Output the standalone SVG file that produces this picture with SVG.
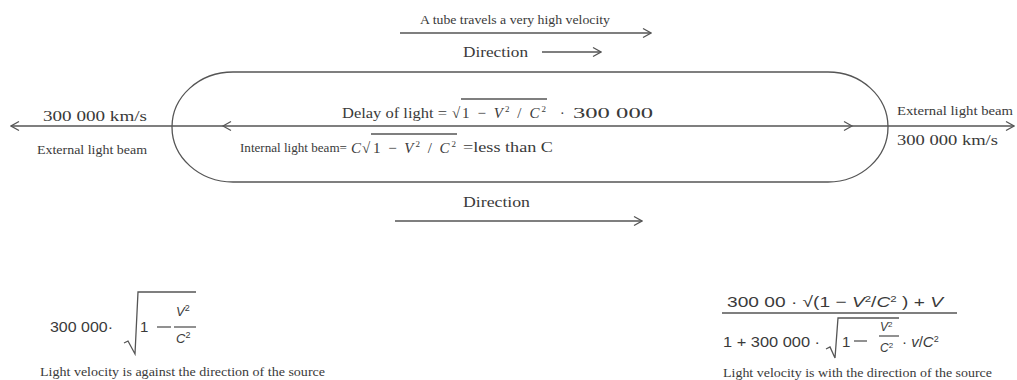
<svg xmlns="http://www.w3.org/2000/svg" width="1017" height="380" viewBox="0 0 1017 380">
<defs>
<marker id="chev" viewBox="0 0 10 10" refX="9" refY="5" markerWidth="10" markerHeight="10" markerUnits="userSpaceOnUse" orient="auto-start-reverse">
<path d="M1,0.5 L9,5 L1,9.5" fill="none" stroke="#555" stroke-width="1.2"/>
</marker>
</defs>
<style>
.ln{stroke:#555;stroke-width:1.3;fill:none}
.sr{font-family:"Liberation Serif","Times New Roman",serif;fill:#3a3a3a}
.ss{font-family:"Liberation Sans",Arial,sans-serif;fill:#3a3a3a}
.it{font-style:italic}
.ch{fill:none;stroke:#555;stroke-width:1.2}
</style>
<rect width="1017" height="380" fill="#fff"/>

<g id="tube">
<path class="ln" d="M233,72 L828,72 A60,55 0 0 1 828,182 L233,182 A61,55 0 0 1 233,72 Z"/>
</g>

<g id="connectors">
<line class="ln" x1="400" y1="33" x2="651" y2="33" marker-end="url(#chev)"/>
<line class="ln" x1="542" y1="52" x2="601" y2="52" marker-end="url(#chev)"/>
<line class="ln" x1="11" y1="126" x2="1014" y2="126" marker-start="url(#chev)" marker-end="url(#chev)"/>
<path class="ch" d="M231,121.5 L223,126 L231,130.5"/>
<path class="ch" d="M844,121.5 L852,126 L844,130.5"/>
<line class="ln" x1="395" y1="221" x2="642" y2="221" marker-end="url(#chev)"/>
</g>

<g id="top-label">
<text class="sr" x="420" y="24" font-size="13" textLength="190" lengthAdjust="spacingAndGlyphs">A tube travels a very high velocity</text>
<text class="sr" x="463" y="57" font-size="14" textLength="65" lengthAdjust="spacingAndGlyphs">Direction</text>
</g>

<g id="bottom-label">
<text class="sr" x="463" y="207" font-size="14" textLength="67" lengthAdjust="spacingAndGlyphs">Direction</text>
</g>

<g id="left-beam">
<text class="sr" x="43" y="121" font-size="14" textLength="104" lengthAdjust="spacingAndGlyphs">300 000 km/s</text>
<text class="sr" x="37" y="154" font-size="12" textLength="110" lengthAdjust="spacingAndGlyphs">External light beam</text>
</g>

<g id="right-beam">
<text class="sr" x="897" y="115" font-size="12" textLength="116" lengthAdjust="spacingAndGlyphs">External light beam</text>
<text class="sr" x="897" y="145" font-size="14" textLength="101" lengthAdjust="spacingAndGlyphs">300 000 km/s</text>
</g>

<g id="delay-formula">
<text class="sr" x="342" y="118" font-size="14" textLength="105" lengthAdjust="spacingAndGlyphs">Delay of light =</text>
<text class="sr" x="452" y="118" font-size="15">√</text>
<line class="ln" x1="461" y1="99" x2="547" y2="99" stroke-width="1"/>
<text class="sr" x="462" y="118" font-size="15" textLength="84" lengthAdjust="spacing">1 − <tspan class="it">V</tspan><tspan font-size="9" dy="-6">2</tspan><tspan dy="6"> / </tspan><tspan class="it">C</tspan><tspan font-size="9" dy="-6">2</tspan></text>
<text class="sr" x="560" y="118" font-size="14">·</text>
<text class="sr" x="573" y="118" font-size="14" textLength="80" lengthAdjust="spacingAndGlyphs">300 000</text>
</g>

<g id="internal-formula">
<text class="sr" x="240" y="152" font-size="12" textLength="107" lengthAdjust="spacingAndGlyphs">Internal light beam=</text>
<text class="sr it" x="351" y="153" font-size="15">C</text>
<text class="sr" x="362" y="153" font-size="15">√</text>
<line class="ln" x1="371" y1="134" x2="457" y2="134" stroke-width="1"/>
<text class="sr" x="373" y="153" font-size="15" textLength="83" lengthAdjust="spacing">1 − <tspan class="it">V</tspan><tspan font-size="9" dy="-6">2</tspan><tspan dy="6"> / </tspan><tspan class="it">C</tspan><tspan font-size="9" dy="-6">2</tspan></text>
<text class="sr" x="463" y="152" font-size="14" textLength="90" lengthAdjust="spacingAndGlyphs">=less than C</text>
</g>

<g id="formula-left">
<text class="ss" x="50" y="332" font-size="15" textLength="63" lengthAdjust="spacingAndGlyphs">300 000·</text>
<path class="ln" stroke-width="1.1" d="M124,343 L128,341 L135,354 L138,292 L196,292"/>
<text class="ss" x="140" y="332" font-size="15">1</text>
<line class="ln" stroke-width="1.1" x1="157" y1="327" x2="171" y2="327"/>
<text class="ss it" x="176" y="316" font-size="13">V<tspan font-size="9" dy="-5" font-style="normal">2</tspan></text>
<line class="ln" stroke-width="1" x1="174" y1="327" x2="196" y2="327"/>
<text class="ss it" x="176" y="343" font-size="13">C<tspan font-size="9" dy="-5" font-style="normal">2</tspan></text>
<text class="sr" x="40" y="376" font-size="12" textLength="285" lengthAdjust="spacingAndGlyphs">Light velocity is against the direction of the source</text>
</g>

<g id="formula-right">
<text class="ss" x="727" y="307" font-size="15" textLength="216" lengthAdjust="spacingAndGlyphs">300 00 · √(1 − <tspan class="it">V</tspan><tspan font-size="9" dy="-5">2</tspan><tspan dy="5">/</tspan><tspan class="it">C</tspan><tspan font-size="9" dy="-5">2</tspan><tspan dy="5"> ) + </tspan><tspan class="it">V</tspan></text>
<line class="ln" stroke-width="1.2" x1="722" y1="313" x2="957" y2="313"/>
<text class="ss" x="723" y="347" font-size="15" textLength="97" lengthAdjust="spacingAndGlyphs">1 + 300 000 ·</text>
<path class="ln" stroke-width="1.1" d="M826,349 L830,347 L835,358 L838,318 L899,318"/>
<text class="ss" x="842" y="347" font-size="15">1</text>
<line class="ln" stroke-width="1.1" x1="854" y1="341" x2="867" y2="341"/>
<text class="ss it" x="880" y="331" font-size="12">V<tspan font-size="8" dy="-4" font-style="normal">2</tspan></text>
<line class="ln" stroke-width="1" x1="879" y1="336" x2="899" y2="336"/>
<text class="ss it" x="880" y="352" font-size="12">C<tspan font-size="8" dy="-4" font-style="normal">2</tspan></text>
<text class="ss" x="902" y="347" font-size="15">· <tspan class="it">v</tspan>/<tspan class="it">C</tspan><tspan font-size="9" dy="-5">2</tspan></text>
<text class="sr" x="723" y="377" font-size="12" textLength="269" lengthAdjust="spacingAndGlyphs">Light velocity is with the direction of the source</text>
</g>
</svg>
